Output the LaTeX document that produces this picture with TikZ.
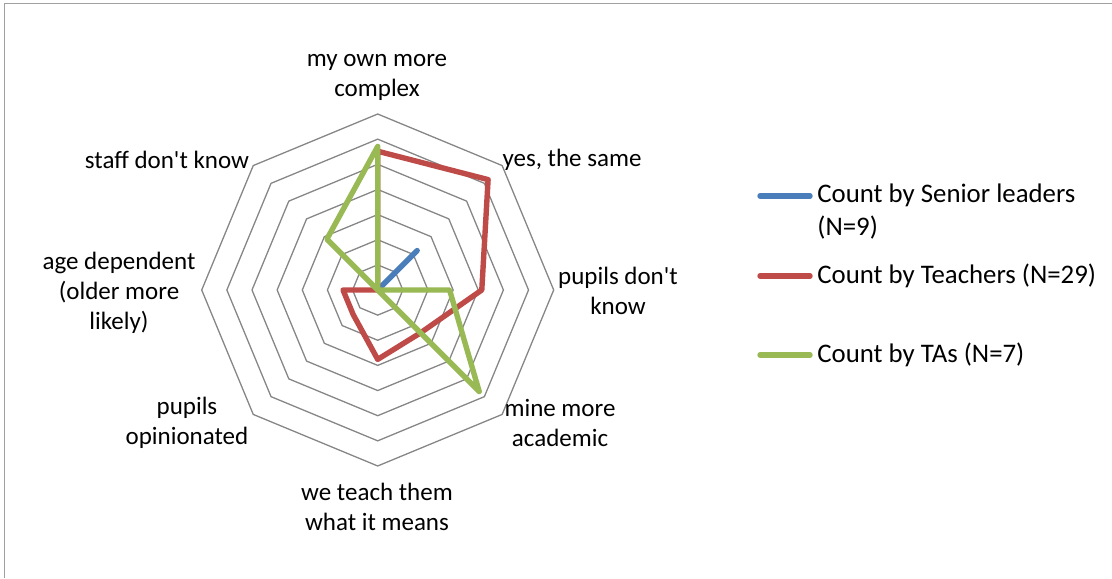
\documentclass[tikz,border=0pt]{standalone}
\usepackage{fontspec}
\setmainfont{Carlito}
\usetikzlibrary{shapes, arrows, positioning}

\definecolor{senior}{HTML}{4A7EBB}
\definecolor{teacher}{HTML}{BE4B48}
\definecolor{tas}{HTML}{98B954}
\definecolor{ring}{HTML}{868686}
\definecolor{chartframe}{HTML}{A0A0A0}

\tikzset{
  axislabel/.style={font=\fontsize{12.5}{15}\selectfont, align=center, inner sep=0pt},
  legendtext/.style={font=\fontsize{13.4}{16.5}\selectfont, align=left, anchor=west, inner sep=0pt},
  series/.style={line width=2.7pt, line cap=round, line join=round},
}

\begin{document}
\begin{tikzpicture}[x=0.5pt, y=0.5pt]
  \useasboundingbox (0,0) rectangle (1112,578);
  \draw[chartframe, line width=0.8pt] (4.5,0) -- (4.5,574.5) -- (1112,574.5);

  \begin{scope}[shift={(377.7,288)}]
    \foreach \k in {1,...,7}
      \draw[ring, line width=0.65pt] (90:{25.14*\k})
        \foreach \a in {45,0,-45,-90,-135,180,135} { -- (\a:{25.14*\k}) } -- cycle;

    \foreach \v [count=\i from 0] in {0,22.2,0,0,0,0,0,0}
      \coordinate (s\i) at ({90-45*\i}:{2.514*\v});
    \foreach \v [count=\i from 0] in {55.2,62.1,41.4,24.1,27.6,13.8,13.8,0}
      \coordinate (t\i) at ({90-45*\i}:{2.514*\v});
    \foreach \v [count=\i from 0] in {57.1,0,28.6,57.1,0,0,0,28.6}
      \coordinate (a\i) at ({90-45*\i}:{2.514*\v});

    \draw[series, senior] (s0) -- (s1) -- (s2) -- (s3) -- (s4) -- (s5) -- (s6) -- (s7) -- cycle;
    \draw[series, teacher] (t0) -- (t1) -- (t2) -- (t3) -- (t4) -- (t5) -- (t6) -- (t7) -- cycle;
    \draw[series, tas] (a0) -- (a1) -- (a2) -- (a3) -- (a4) -- (a5) -- (a6) -- (a7) -- cycle;
  \end{scope}

  \node[axislabel] (lab-own) at (377,501) {my own more\\complex};
  \node[axislabel] (lab-same) at (572,418) {yes, the same};
  \node[axislabel] (lab-pupils) at (618,287) {pupils don\textquotesingle t\\know};
  \node[axislabel] (lab-academic) at (560,155.5) {mine more\\academic};
  \node[axislabel] (lab-teach) at (377,71) {we teach them\\what it means};
  \node[axislabel] (lab-opinion) at (187,155.5) {pupils\\opinionated};
  \node[axislabel] (lab-age) at (119,285) {age dependent\\(older more\\likely)};
  \node[axislabel] (lab-staff) at (167,418) {staff don\textquotesingle t know};

  \node[legendtext] (lg-senior) at (817,366) {Count by Senior leaders\\(N=9)};
  \node[legendtext] (lg-teacher) at (817,302) {Count by Teachers (N=29)};
  \node[legendtext] (lg-tas) at (817,223) {Count by TAs (N=7)};

  \coordinate (key-senior) at (760,382);
  \coordinate (key-teacher) at (760,302);
  \coordinate (key-tas) at (760,223);
  \draw[series, senior, shorten >=3.5pt] (key-senior) -- (key-senior -| lg-senior.west);
  \draw[series, teacher, shorten >=3.5pt] (key-teacher) -- (key-teacher -| lg-teacher.west);
  \draw[series, tas, shorten >=3.5pt] (key-tas) -- (key-tas -| lg-tas.west);
\end{tikzpicture}
\end{document}
